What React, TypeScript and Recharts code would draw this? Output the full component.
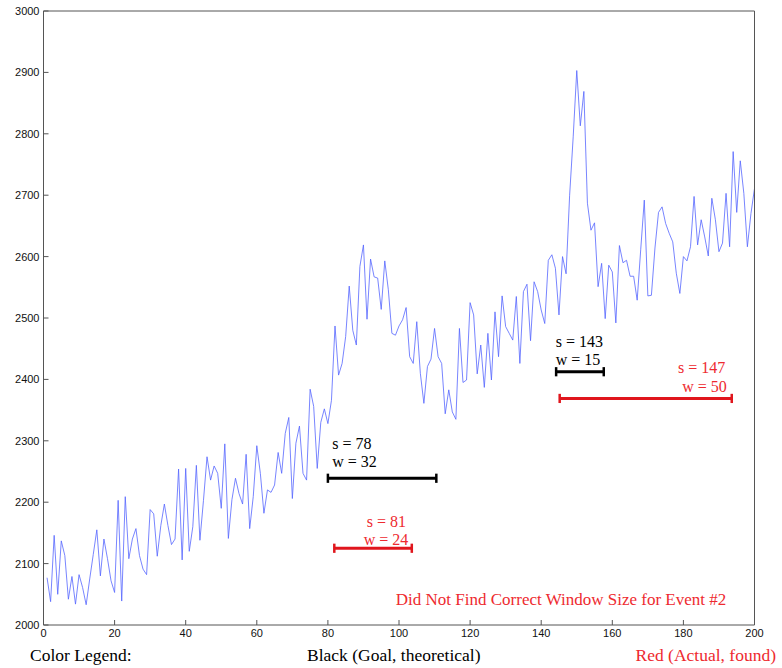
import React from 'react';
import { LineChart, Line, XAxis, YAxis, ReferenceLine, ReferenceDot } from 'recharts';

// Series values for x = 1..200
const signal = [
  2077, 2038, 2146, 2050, 2137, 2113, 2042, 2079, 2034, 2082,
  2061, 2033, 2075, 2115, 2155, 2080, 2140, 2108, 2072, 2053,
  2203, 2039, 2209, 2108, 2140, 2157, 2113, 2091, 2082, 2188,
  2181, 2112, 2162, 2197, 2162, 2131, 2140, 2254, 2106, 2255,
  2120, 2160, 2260, 2138, 2203, 2274, 2236, 2259, 2247, 2190,
  2295, 2141, 2204, 2239, 2214, 2197, 2278, 2157, 2209, 2292,
  2247, 2182, 2220, 2216, 2228, 2281, 2247, 2312, 2338, 2206,
  2296, 2324, 2247, 2236, 2384, 2356, 2255, 2330, 2352, 2328,
  2366, 2487, 2407, 2426, 2470, 2552, 2480, 2456, 2584, 2619,
  2498, 2596, 2567, 2565, 2514, 2593, 2546, 2475, 2472, 2487,
  2497, 2517, 2437, 2426, 2494, 2410, 2361, 2421, 2433, 2483,
  2437, 2426, 2344, 2383, 2347, 2335, 2483, 2395, 2399, 2525,
  2505, 2409, 2456, 2387, 2475, 2399, 2510, 2437, 2536, 2486,
  2475, 2464, 2535, 2426, 2543, 2555, 2463, 2559, 2543, 2513,
  2491, 2594, 2603, 2581, 2505, 2600, 2572, 2700, 2795, 2903,
  2813, 2869, 2687, 2643, 2655, 2551, 2589, 2499, 2586, 2575,
  2492, 2618, 2590, 2594, 2568, 2568, 2529, 2612, 2692, 2536,
  2537, 2614, 2672, 2681, 2654, 2638, 2624, 2573, 2540, 2600,
  2593, 2616, 2698, 2619, 2660, 2632, 2601, 2695, 2660, 2608,
  2622, 2703, 2616, 2771, 2672, 2756, 2703, 2616, 2670, 2711,
];

const xTicks = [0, 20, 40, 60, 80, 100, 120, 140, 160, 180, 200];
const yTicks = [2000, 2100, 2200, 2300, 2400, 2500, 2600, 2700, 2800, 2900, 3000];

// Goal (black) and found (red) windows: start, end, level
const goalStarts = [80, 144.2];
const goalEnds = [110.5, 157.6];
const goalLevels = [2239, 2412.5];
const foundStarts = [81.8, 145.2];
const foundEnds = [103.6, 193.6];
const foundLevels = [2125, 2369];

// Annotation texts with their anchor in data coordinates
const goalTexts = ['s = 78', 'w = 32', 's = 143', 'w = 15'];
const goalTextX = [81.2, 81.2, 144.1, 144.1];
const goalTextY = [2287, 2257, 2453, 2423];
const foundTexts = ['s = 81', 'w = 24', 's = 147', 'w = 50'];
const foundTextX = [102.0, 102.6, 191.8, 192.2];
const foundTextY = [2160, 2130, 2410, 2380];
const noteText = 'Did Not Find Correct Window Size for Event #2';
const noteX = 99.1;
const noteY = 2033;

const legendTitle = 'Color Legend:';
const legendGoal = 'Black (Goal, theoretical)';
const legendFound = 'Red (Actual, found)';

const data = signal.map((v, i) => ({ x: i + 1, v }));

const BLUE = '#5566ff';
const RED_BAR = '#e0161d';
const RED_TEXT = '#ee2a2f';
const AXIS = '#555';
const SERIF = "'Liberation Serif', 'Times New Roman', serif";
const TICKFONT = "'Liberation Sans Narrow', 'Liberation Sans', Arial, sans-serif";

const AnnLabel = (props: any) => {
  const { viewBox, text, anchor, color, size } = props;
  const x = viewBox.x + (viewBox.width || 0) / 2;
  const y = viewBox.y + (viewBox.height || 0) / 2;
  return (
    <text x={x} y={y} textAnchor={anchor} fill={color} fontFamily={SERIF} fontSize={size}>
      {text}
    </text>
  );
};

const capHalf = 7.5;

export default function App() {
  const tickStyle = { fontFamily: TICKFONT, fontSize: 11, fill: '#111' };
  const intervals = (starts: number[], ends: number[], levels: number[], color: string, key: string) =>
    starts.flatMap((s, i) => [
      <ReferenceLine
        key={`${key}-bar-${i}`}
        segment={[{ x: s, y: levels[i] }, { x: ends[i], y: levels[i] }]}
        stroke={color}
        strokeWidth={3}
      />,
      <ReferenceLine
        key={`${key}-capL-${i}`}
        segment={[{ x: s, y: levels[i] - capHalf }, { x: s, y: levels[i] + capHalf }]}
        stroke={color}
        strokeWidth={2.5}
      />,
      <ReferenceLine
        key={`${key}-capR-${i}`}
        segment={[{ x: ends[i], y: levels[i] - capHalf }, { x: ends[i], y: levels[i] + capHalf }]}
        stroke={color}
        strokeWidth={2.5}
      />,
    ]);

  const texts = (arr: string[], xs: number[], ys: number[], color: string, anchor: string, key: string) =>
    arr.map((t, i) => (
      <ReferenceDot
        key={`${key}-t-${i}`}
        x={xs[i]}
        y={ys[i]}
        r={0}
        stroke="none"
        fill="none"
        label={<AnnLabel text={t} anchor={anchor} color={color} size={16} />}
      />
    ));

  const legendStyle = { position: 'absolute' as const, top: 645, fontFamily: SERIF, fontSize: 17.5, whiteSpace: 'nowrap' as const };

  return (
    <div style={{ position: 'absolute', left: 0, top: 0, width: 782, height: 668, background: '#fff' }}>
      <LineChart
        width={782}
        height={668}
        data={data}
        margin={{ top: 10, right: 26.5, left: 0, bottom: 0 }}
      >
        <XAxis
          dataKey="x"
          type="number"
          domain={[0, 200]}
          ticks={xTicks}
          height={43}
          tickSize={-5}
          tickMargin={9}
          tick={tickStyle}
          stroke={AXIS}
          interval={0}
        />
        <XAxis
          xAxisId="top"
          orientation="top"
          dataKey="x"
          type="number"
          domain={[0, 200]}
          ticks={xTicks}
          height={1}
          tickSize={-5}
          tick={false}
          stroke={AXIS}
          interval={0}
        />
        <YAxis
          type="number"
          domain={[2000, 3000]}
          ticks={yTicks}
          width={43.5}
          tickSize={-5}
          tickMargin={9}
          tick={tickStyle}
          stroke={AXIS}
          interval={0}
        />
        <YAxis
          yAxisId="right"
          orientation="right"
          type="number"
          domain={[2000, 3000]}
          ticks={yTicks}
          width={1}
          tickSize={-5}
          tick={false}
          stroke={AXIS}
          interval={0}
        />
        <Line
          type="linear"
          dataKey="v"
          stroke={BLUE}
          strokeWidth={0.8}
          dot={false}
          isAnimationActive={false}
        />
        {intervals(goalStarts, goalEnds, goalLevels, '#000', 'goal')}
        {intervals(foundStarts, foundEnds, foundLevels, RED_BAR, 'found')}
        {texts(goalTexts, goalTextX, goalTextY, '#000', 'start', 'goal')}
        {texts(foundTexts, foundTextX, foundTextY, RED_TEXT, 'end', 'found')}
        <ReferenceDot
          x={noteX}
          y={noteY}
          r={0}
          stroke="none"
          fill="none"
          label={<AnnLabel text={noteText} anchor="start" color={RED_TEXT} size={17} />}
        />
      </LineChart>
      <div style={{ ...legendStyle, left: 30, color: '#000' }}>{legendTitle}</div>
      <div style={{ ...legendStyle, left: 307, color: '#000' }}>{legendGoal}</div>
      <div style={{ ...legendStyle, right: 6, color: RED_TEXT }}>{legendFound}</div>
    </div>
  );
}
